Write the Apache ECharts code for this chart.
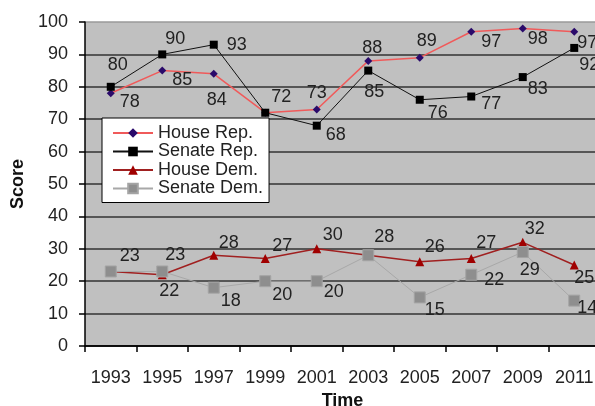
<!DOCTYPE html>
<html><head><meta charset="utf-8">
<script src="https://cdn.jsdelivr.net/npm/echarts@6/dist/echarts.min.js"></script>
<style>html,body{margin:0;padding:0;background:#fff}#c{width:595px;height:406px}</style>
</head><body><div id="c"></div>
<script>
const years = ['1993','1995','1997','1999','2001','2003','2005','2007','2009','2011'];
const houseRep = [78, 85, 84, 72, 73, 88, 89, 97, 98, 97];
const senateRep = [80, 90, 93, 72, 68, 85, 76, 77, 83, 92];
const houseDem = [23, 22, 28, 27, 30, 28, 26, 27, 32, 25];
const senateDem = [23, 23, 18, 20, 20, 28, 15, 22, 29, 14];
const yTicks = [0, 10, 20, 30, 40, 50, 60, 70, 80, 90, 100];

// label offsets (style only); null = label hidden (covered by an identical label)
const offHR = [[19,9],[20,9],[3,26],[16,-16],[0,-16],[4,-13],[7,-17],[20,10],[15,11],[13,11]];
const offSR = [[7,-22],[13,-15],[23,0],null,[19,9],[6,21],[18,13],[20,8],[15,12],[15,17]];
const offHD = [null,[7,16],[15,-12],[17,-12],[16,-14],null,[15,-15],[15,-15],[12,-13],[10,13]];
const offSD = [[19,-15],[13,-16],[17,13],[17,14],[17,11],[16,-18],[15,13],[23,5],[7,18],[13,7]];

const FONT = 'Liberation Sans, Arial, sans-serif';
function items(vals, offs) {
  return vals.map((v, i) => offs[i] ? { value: v, label: { offset: offs[i] } } : { value: v, label: { show: false } });
}
const lbl = { show: true, position: 'inside', color: '#222', fontSize: 18, fontFamily: FONT };

const chart = echarts.init(document.getElementById('c'));
chart.setOption({
  animation: false,
  backgroundColor: '#fff',
  grid: { left: 85, top: 22, width: 515, height: 324, show: true, backgroundColor: '#c0c0c0', borderWidth: 0, outerBoundsMode: 'none', containLabel: false },
  legend: {
    orient: 'vertical', left: 102, top: 118,
    backgroundColor: '#fff', borderColor: '#000', borderWidth: 1,
    padding: [6, 6, 5, 10], itemWidth: 40, itemHeight: 12, itemGap: 0.5,
    textStyle: { fontSize: 18, fontFamily: FONT, color: '#222', lineHeight: 18 },
    data: ['House Rep.', 'Senate Rep.', 'House Dem.', 'Senate Dem.']
  },
  xAxis: {
    type: 'category', data: years, boundaryGap: true,
    name: 'Time', nameLocation: 'middle', nameGap: 43,
    nameTextStyle: { fontSize: 18, fontWeight: 'bold', fontFamily: FONT, color: '#111' },
    axisLine: { lineStyle: { color: '#000', width: 1.5 } },
    axisTick: { show: true, length: 6, lineStyle: { color: '#000', width: 1.5 } },
    axisLabel: { margin: 23, fontSize: 18, fontFamily: FONT, color: '#222', interval: 0 },
    splitLine: { show: false }
  },
  yAxis: {
    type: 'value', min: yTicks[0], max: yTicks[yTicks.length - 1], interval: 10,
    name: 'Score', nameLocation: 'middle', nameGap: 56,
    nameTextStyle: { fontSize: 18, fontWeight: 'bold', fontFamily: FONT, color: '#111' },
    axisLine: { show: true, lineStyle: { color: '#000', width: 1.5 } },
    axisTick: { show: true, length: 6, lineStyle: { color: '#000', width: 1.5 } },
    axisLabel: { margin: 17, fontSize: 18, fontFamily: FONT, color: '#222' },
    splitLine: { show: true, lineStyle: { color: ['#000','#333','#333','#333','#333','#333','#333','#333','#333','#333','#9a9a9a'], width: 1.5 } }
  },
  series: [
    {
      name: 'House Rep.', type: 'line', data: items(houseRep, offHR),
      symbol: 'diamond', symbolSize: 8,
      lineStyle: { color: '#f05a5a', width: 1.5 },
      itemStyle: { color: '#2a0a6a' },
      label: lbl
    },
    {
      name: 'Senate Rep.', type: 'line', data: items(senateRep, offSR),
      symbol: 'rect', symbolSize: 8,
      lineStyle: { color: '#111', width: 1 },
      itemStyle: { color: '#000' },
      label: lbl
    },
    {
      name: 'House Dem.', type: 'line', data: items(houseDem, offHD),
      symbol: 'triangle', symbolSize: 9,
      lineStyle: { color: '#a02020', width: 1.5 },
      itemStyle: { color: '#a00000' },
      label: lbl
    },
    {
      name: 'Senate Dem.', type: 'line', data: items(senateDem, offSD),
      symbol: 'rect', symbolSize: 11,
      lineStyle: { color: '#a8a8a8', width: 1 },
      itemStyle: { color: '#8e8e8e', borderColor: '#a4a4a4', borderWidth: 1 },
      label: lbl
    }
  ]
});
</script></body></html>
